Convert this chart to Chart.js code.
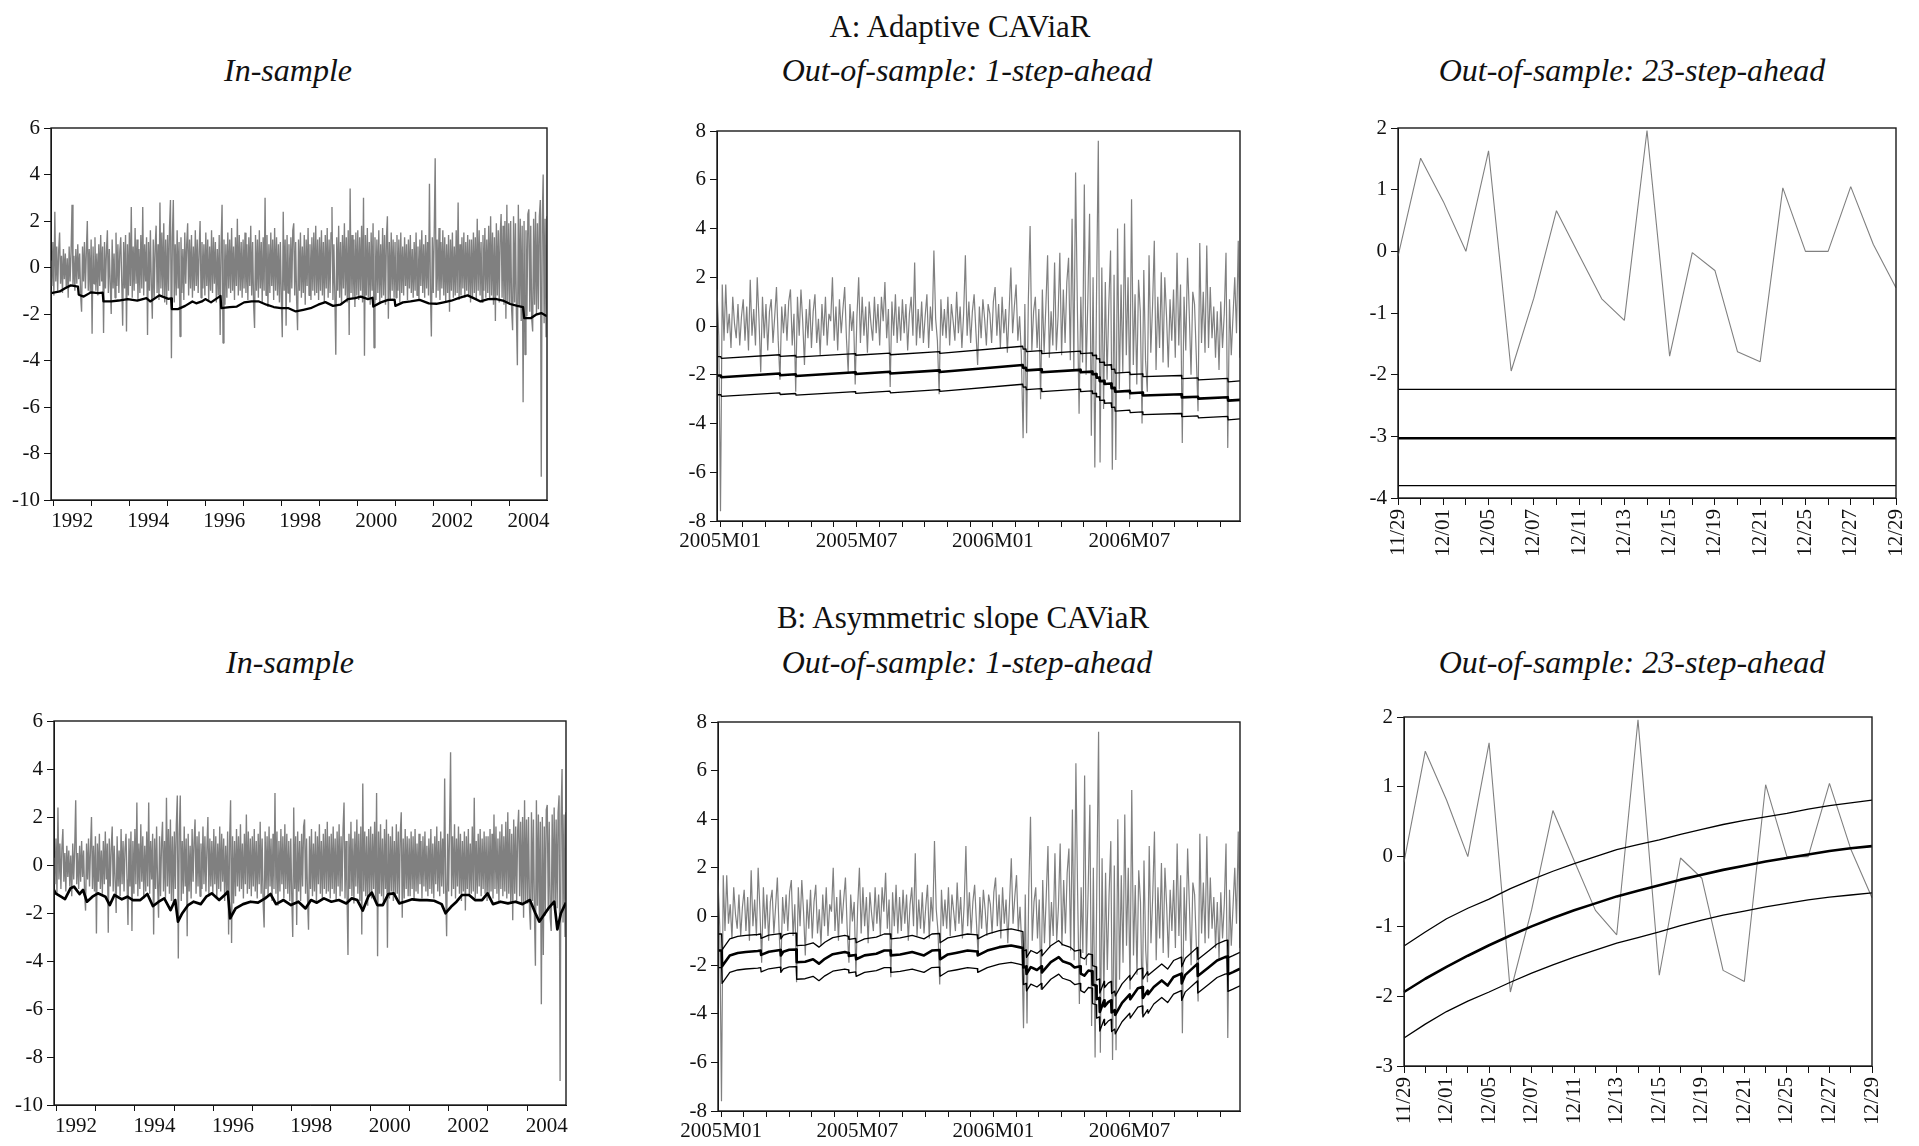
<!DOCTYPE html>
<html>
<head>
<meta charset="utf-8">
<script src="https://cdn.jsdelivr.net/npm/chart.js@4.4.1/dist/chart.umd.min.js"></script>
<style>
html,body{margin:0;padding:0;background:#fff;width:1919px;height:1146px;overflow:hidden;position:relative;}
.t{position:absolute;font-family:'Liberation Serif','Times New Roman',serif;color:#111;white-space:nowrap;transform:translateX(-50%);line-height:1;}
.title{font-size:31px;}
.sub{font-size:32px;font-style:italic;}
canvas{position:absolute;}
</style>
</head>
<body>
<div class="t title" style="left:960px;top:11px">A: Adaptive CAViaR</div>
<div class="t sub" style="left:288px;top:54px">In-sample</div>
<div class="t sub" style="left:967px;top:54px">Out-of-sample: 1-step-ahead</div>
<div class="t sub" style="left:1632px;top:54px">Out-of-sample: 23-step-ahead</div>
<div class="t title" style="left:963px;top:602px">B: Asymmetric slope CAViaR</div>
<div class="t sub" style="left:290px;top:646px">In-sample</div>
<div class="t sub" style="left:967px;top:646px">Out-of-sample: 1-step-ahead</div>
<div class="t sub" style="left:1632px;top:646px">Out-of-sample: 23-step-ahead</div>
<script>
// ---------------- DATA ----------------
// In-sample daily returns (approx. Dec 1991 - Dec 2004)
const inSampleStart = 1991.94;
const inSampleEnd = 2004.99;
const inSampleReturns = [
 0.3,-0.8,1.1,-1.2,2.4,-0.6,0.9,-1.0,0.7,1.5,-0.7,0.5,-1.1,0.8,-0.5,0.6,-0.9,0.4,-1.3,0.9,-0.6,0.7,2.7,-0.8,0.5,-1.0,0.8,-0.7,1.0,-0.5,0.6,-1.2,-1.9,0.9,-0.6,1.1,-0.9,0.7,2.0,-1.0,
 0.8,-1.1,1.2,-2.85,0.9,-0.7,1.3,-1.0,0.6,-1.2,1.0,-0.8,1.4,-0.6,0.9,-2.82,1.1,-0.9,0.7,1.6,-1.1,0.8,-0.7,-2.0,1.2,-0.9,0.6,-1.3,1.5,-0.8,1.0,-1.1,0.7,1.3,-0.6,-2.5,1.1,-0.9,1.4,-2.75,
 1.0,-1.2,1.5,-0.8,2.6,-1.3,0.9,-1.0,1.7,-0.7,1.2,-1.4,0.8,-1.1,1.4,-0.9,2.6,-1.2,1.0,-0.6,1.3,-2.9,1.1,-1.0,1.6,-0.8,-2.2,1.2,-1.3,0.9,1.8,-1.1,1.0,-1.4,2.8,-0.9,1.5,-1.2,1.9,-1.5,
 1.2,-1.6,1.4,-1.0,1.7,2.9,-3.9,1.3,2.9,-1.5,1.0,-1.2,1.6,-0.9,1.1,-2.97,1.3,-1.1,0.8,-1.4,1.5,-0.7,1.0,1.9,-1.2,1.2,-0.9,1.4,-1.3,0.9,-1.0,1.6,-0.8,1.2,-1.1,0.7,2.0,-1.3,1.1,-0.9,
 1.0,-1.2,1.5,-0.8,1.2,-1.4,0.9,-1.0,1.6,-1.1,1.3,-0.7,1.1,-1.5,0.8,-1.2,1.4,-2.9,1.0,2.7,-3.25,1.2,-1.6,1.0,-1.3,1.5,-0.9,1.2,-1.1,1.7,-1.0,0.9,-1.4,1.3,-0.8,2.1,-1.2,1.4,-1.0,1.1,
 -1.3,1.2,-0.9,1.5,-1.1,1.0,-1.4,1.3,-0.8,1.8,-1.2,1.1,-1.6,-2.6,1.4,-1.0,1.2,-1.3,1.6,-0.9,1.1,-1.5,1.3,-1.0,3.0,-1.2,1.4,-1.7,1.0,-1.1,1.5,-0.8,1.2,-1.4,1.7,-1.0,1.3,-1.2,1.0,-1.5,
 1.1,-1.3,-3.0,2.4,-1.0,1.2,-2.5,1.4,-1.1,1.0,-1.5,1.3,-0.9,1.6,1.9,-1.2,1.1,-1.4,-2.7,1.2,-1.0,1.5,-1.3,0.9,-1.1,1.4,-1.6,1.2,-0.8,1.7,-1.2,1.0,-1.4,1.3,-1.0,1.5,-1.2,1.8,-1.1,1.2,
 -1.4,1.3,-1.0,1.6,-1.2,1.1,-1.5,1.4,-0.9,1.7,-1.3,1.2,-1.1,1.5,2.6,-1.4,1.0,-1.2,-3.75,1.3,-1.0,1.8,-1.3,1.1,-1.6,1.4,-0.9,1.9,-1.2,1.3,-1.5,1.6,-2.9,3.4,-1.1,1.4,-1.3,1.2,-1.7,1.5,
 -1.2,1.6,-1.4,1.3,-1.0,1.8,-1.5,3.0,-3.8,1.4,-1.2,1.7,-1.3,1.1,-1.6,1.5,-1.0,1.9,-3.45,1.3,-1.4,1.2,-1.1,1.6,-1.5,1.0,-1.3,1.7,-1.2,1.4,-1.6,1.3,2.2,-2.2,1.1,-1.4,1.5,-1.0,1.2,-1.3,
 1.1,-1.3,1.4,-1.0,1.2,-1.5,1.5,-1.1,0.9,-1.2,1.3,-0.8,1.0,-1.4,1.2,-0.9,1.4,-1.1,0.8,-1.3,1.1,-1.0,1.5,-1.2,0.9,-1.4,1.2,-0.8,1.6,-1.1,1.0,-1.3,1.4,-0.9,1.1,-1.2,3.6,-1.0,-2.97,1.3,
 -1.1,1.5,4.7,-1.3,1.2,-1.0,1.7,-1.4,1.1,-0.9,1.6,-1.2,1.3,-1.5,1.0,-1.1,1.4,-1.9,1.2,-1.0,1.5,-1.3,0.9,-1.2,1.6,-1.1,2.8,-1.4,1.0,-1.2,1.3,-0.9,1.5,-1.3,1.1,-1.0,1.4,-1.2,1.2,-1.5,
 1.2,-1.3,1.5,-1.1,1.3,-1.4,2.1,-1.0,1.6,-1.2,1.1,-1.5,1.4,-1.0,1.7,-1.3,1.2,-1.1,1.8,-1.4,2.2,-1.2,1.5,-1.6,1.3,-2.3,1.9,-1.2,1.6,-1.5,1.4,2.3,-1.3,1.8,-1.6,2.0,-2.2,2.7,-1.5,1.9,
 -1.6,2.0,-1.8,-2.7,2.2,-1.5,1.9,-2.0,-4.2,2.7,-1.7,2.1,-2.3,1.8,-5.8,2.0,-3.75,1.6,-2.1,2.3,2.5,-1.9,1.8,-2.2,-2.75,2.1,-1.6,2.4,-2.0,1.9,-1.8,2.2,2.9,-9.0,2.0,4.0,-2.4,2.1,-3.0,2.2
];
// In-sample VaR, panel A (adaptive)
const inSampleVarATime = [
 1991.94,1992.17,1992.31,1992.46,1992.65,1992.67,1992.80,1992.99,1993.19,1993.30,
 1993.32,1993.53,1993.72,1993.96,1994.21,1994.45,1994.55,1994.79,1995.03,1995.10,
 1995.12,1995.28,1995.47,1995.66,1995.76,1995.91,1996.00,1996.15,1996.40,1996.42,
 1996.64,1996.83,1997.02,1997.22,1997.41,1997.61,1997.80,1997.99,1998.19,1998.38,
 1998.58,1998.77,1998.97,1999.16,1999.36,1999.55,1999.75,1999.94,2000.09,2000.28,
 2000.40,2000.42,2000.62,2000.81,2000.98,2001.00,2001.20,2001.40,2001.64,2001.88,
 2002.08,2002.27,2002.47,2002.66,2002.90,2003.10,2003.24,2003.44,2003.63,2003.83,
 2004.02,2004.21,2004.36,2004.39,2004.56,2004.70,2004.84,2004.99
];
const inSampleVarA = [
 -1.10,-1.03,-0.89,-0.77,-0.82,-1.17,-1.25,-1.07,-1.10,-1.08,
 -1.46,-1.46,-1.42,-1.36,-1.42,-1.32,-1.46,-1.20,-1.35,-1.33,
 -1.79,-1.79,-1.65,-1.46,-1.54,-1.46,-1.36,-1.50,-1.22,-1.75,
 -1.70,-1.68,-1.50,-1.46,-1.46,-1.60,-1.70,-1.75,-1.75,-1.89,
 -1.82,-1.75,-1.60,-1.49,-1.65,-1.60,-1.36,-1.32,-1.25,-1.36,
 -1.30,-1.68,-1.50,-1.39,-1.38,-1.65,-1.50,-1.46,-1.39,-1.54,
 -1.56,-1.50,-1.43,-1.32,-1.20,-1.35,-1.46,-1.36,-1.35,-1.42,
 -1.57,-1.65,-1.70,-2.18,-2.18,-2.03,-1.96,-2.10
];
// In-sample VaR, panel B (asymmetric slope)
const inSampleVarBTime = [
 1991.94,1991.98,1992.12,1992.22,1992.36,1992.45,1992.59,1992.68,1992.78,1992.92,
 1993.06,1993.25,1993.36,1993.48,1993.67,1993.81,1993.95,1994.14,1994.32,1994.46,
 1994.61,1994.75,1994.91,1995.03,1995.10,1995.21,1995.36,1995.50,1995.68,1995.82,
 1995.96,1996.15,1996.29,1996.37,1996.43,1996.57,1996.76,1996.95,1997.14,1997.32,
 1997.46,1997.60,1997.79,1997.98,1998.17,1998.35,1998.49,1998.64,1998.82,1999.01,
 1999.20,1999.39,1999.53,1999.67,1999.81,1999.95,2000.04,2000.18,2000.32,2000.46,
 2000.60,2000.74,2000.88,2001.07,2001.26,2001.45,2001.63,2001.82,2001.92,2002.06,
 2002.20,2002.34,2002.52,2002.67,2002.85,2002.99,2003.13,2003.32,2003.51,2003.70,
 2003.88,2004.07,2004.21,2004.31,2004.40,2004.54,2004.69,2004.77,2004.86,2004.99
];
const inSampleVarB = [
 -1.04,-1.18,-1.32,-1.42,-0.97,-0.90,-1.21,-1.04,-1.53,-1.32,
 -1.18,-1.32,-1.67,-1.25,-1.43,-1.32,-1.46,-1.46,-1.21,-1.71,
 -1.53,-1.39,-1.88,-1.46,-2.36,-2.01,-1.67,-1.53,-1.63,-1.32,
 -1.18,-1.46,-1.25,-1.11,-2.22,-1.81,-1.63,-1.53,-1.57,-1.39,
 -1.21,-1.63,-1.46,-1.67,-1.53,-1.81,-1.46,-1.57,-1.39,-1.53,
 -1.46,-1.60,-1.39,-1.46,-1.90,-1.32,-1.15,-1.67,-1.67,-1.21,
 -1.18,-1.60,-1.53,-1.43,-1.46,-1.46,-1.49,-1.63,-2.01,-1.74,
 -1.53,-1.25,-1.25,-1.46,-1.46,-1.18,-1.63,-1.53,-1.60,-1.53,
 -1.63,-1.46,-2.01,-2.36,-2.15,-1.81,-1.53,-2.68,-2.01,-1.57
];
const inSampleTickYears = [1992,1993,1994,1995,1996,1997,1998,1999,2000,2001,2002,2003,2004];
const inSampleLabelYears = [1992,1994,1996,1998,2000,2002,2004];
const inSampleYTicks = [-10,-8,-6,-4,-2,0,2,4,6];

// Out-of-sample (months since 2005M01), returns
const oosStart = -0.14;
const oosEnd = 22.87;
const oosReturns = [
 1.5,-0.4,-7.6,1.7,-0.6,1.7,-0.3,0.5,-0.9,1.2,0.1,-0.5,0.9,
 -0.8,0.4,1.1,-0.6,0.8,-1.0,1.9,-0.4,0.7,-0.8,2.0,0.3,-1.9,
 1.2,-0.5,0.9,-1.0,0.6,1.1,-0.7,0.4,1.6,-0.6,-2.2,0.8,-0.3,
 0.9,-0.6,1.0,1.5,-0.8,0.5,-2.7,1.2,-0.4,1.5,0.2,-1.6,0.7,
 -0.5,1.1,-0.9,0.6,1.3,-0.7,0.3,-1.2,0.9,-0.4,1.2,-0.8,0.5,
 0.2,2.0,-0.6,0.8,-1.0,1.1,-0.3,0.7,1.6,-0.5,-1.9,0.9,-0.2,
 0.6,-2.4,0.4,2.0,-0.7,1.2,-0.4,0.8,-1.1,1.0,0.1,-0.6,1.2,
 -0.3,0.9,-0.8,1.2,0.2,1.8,-0.5,0.7,-2.5,1.0,-0.4,1.3,-0.7,
 0.8,-0.6,1.1,-0.3,0.9,-1.0,0.5,1.2,-0.4,2.6,-0.8,0.7,-0.5,
 1.0,-0.7,0.4,1.3,-0.9,0.8,-0.2,3.1,0.3,-0.6,-2.8,1.1,-0.4,
 0.7,-0.5,1.2,-0.8,0.9,0.2,-0.6,1.4,-0.3,0.8,-0.9,0.5,2.9,
 -0.4,1.0,-0.7,0.6,1.3,-0.2,-1.6,0.8,-0.5,1.1,0.3,-0.8,0.9,
 0.5,-0.7,1.0,1.6,-0.4,0.9,-0.9,1.2,-0.3,0.7,-1.1,0.6,2.4,
 -0.3,0.8,1.7,-0.6,0.4,-1.2,-4.6,0.9,-4.4,1.1,4.1,-1.0,0.6,
 1.2,-0.9,0.7,-3.0,1.5,-1.1,0.8,2.9,-1.3,0.6,-0.8,2.6,-1.0,
 0.4,3.0,-1.2,1.5,-0.7,1.8,2.8,-1.4,4.4,-1.8,6.3,0.9,-3.6,
 1.2,-1.5,5.8,-2.0,1.0,4.6,-4.5,2.0,-5.8,1.4,7.6,-5.6,2.4,
 -3.4,1.8,-2.2,0.9,3.1,-5.9,2.1,-5.5,4.0,-2.6,1.7,-1.9,4.2,
 -1.2,2.0,-3.0,5.2,-1.6,1.3,-2.4,1.9,0.6,-4.0,2.3,-1.4,-2.7,
 2.9,-1.1,0.8,3.5,-1.8,1.2,-0.9,2.2,-1.5,2.0,0.4,-1.7,1.1,
 -0.6,1.5,-1.3,3.0,-0.8,1.7,-4.8,1.2,-1.0,2.8,0.5,-2.0,1.4,
 0.9,-1.2,-3.5,3.4,-0.7,1.4,-1.1,3.3,-0.9,1.6,-0.5,0.8,-1.3,
 0.6,-1.8,1.0,-0.9,0.5,3.0,-5.0,1.1,-1.2,0.4,2.0,-0.3,3.5,
 -1.3
];
// OOS 1-step VaR, panel A
const oosVarATime = [
 -0.14,0.03,0.05,2.62,2.64,3.32,3.34,5.94,5.96,7.47,
 7.49,9.64,9.66,13.31,13.33,13.45,13.47,14.13,14.15,15.84,
 15.86,16.36,16.38,16.54,16.56,16.68,16.70,16.89,16.91,17.20,
 17.22,17.36,17.38,18.02,18.04,18.58,18.60,20.29,20.31,21.02,
 21.04,22.33,22.35,22.87
];
const oosVarA = [
 -2.03,-2.03,-2.10,-1.95,-2.02,-1.98,-2.05,-1.90,-1.97,-1.88,
 -1.95,-1.82,-1.89,-1.60,-1.72,-1.71,-1.82,-1.78,-1.90,-1.80,
 -1.90,-1.87,-1.98,-1.97,-2.12,-2.11,-2.26,-2.25,-2.38,-2.36,
 -2.55,-2.54,-2.70,-2.66,-2.76,-2.73,-2.85,-2.80,-2.93,-2.90,
 -2.98,-2.92,-3.06,-3.03
];
const oosVarAUpper = [
 -1.26,-1.26,-1.33,-1.18,-1.25,-1.21,-1.28,-1.13,-1.20,-1.11,
 -1.18,-1.05,-1.12,-0.83,-0.95,-0.94,-1.05,-1.01,-1.13,-1.03,
 -1.13,-1.10,-1.21,-1.20,-1.35,-1.34,-1.49,-1.48,-1.61,-1.59,
 -1.78,-1.77,-1.93,-1.89,-1.99,-1.96,-2.08,-2.03,-2.16,-2.13,
 -2.21,-2.15,-2.29,-2.25
];
const oosVarALower = [
 -2.82,-2.82,-2.89,-2.74,-2.81,-2.77,-2.84,-2.69,-2.76,-2.67,
 -2.74,-2.61,-2.68,-2.39,-2.51,-2.50,-2.61,-2.57,-2.69,-2.59,
 -2.69,-2.66,-2.77,-2.76,-2.91,-2.90,-3.05,-3.04,-3.17,-3.15,
 -3.34,-3.33,-3.49,-3.45,-3.55,-3.52,-3.64,-3.59,-3.72,-3.69,
 -3.77,-3.71,-3.85,-3.81
];
// OOS 1-step VaR, panel B
const oosVarBTime = [
 -0.14,0.02,0.04,0.38,0.73,1.08,1.61,1.74,1.76,2.10,
 2.61,2.63,2.74,3.00,3.31,3.33,3.70,4.05,4.31,4.57,
 4.92,5.45,5.61,5.63,5.93,5.95,6.32,6.84,7.19,7.46,
 7.48,7.89,8.42,8.94,9.29,9.63,9.65,9.99,10.34,10.86,
 11.29,11.31,11.73,12.26,12.78,13.13,13.30,13.32,13.44,13.46,
 13.65,13.92,14.12,14.14,14.53,14.88,15.05,15.40,15.58,15.83,
 15.85,16.01,16.19,16.35,16.37,16.53,16.55,16.67,16.69,16.88,
 16.90,17.06,17.19,17.21,17.35,17.37,17.67,18.01,18.03,18.37,
 18.57,18.59,18.80,18.82,19.07,19.42,19.68,19.94,20.28,20.30,
 20.46,20.99,21.01,21.51,21.86,22.21,22.32,22.34,22.56,22.87
];
const oosVarB = [
 -1.40,-1.40,-2.05,-1.60,-1.50,-1.46,-1.42,-1.40,-1.58,-1.45,
 -1.38,-1.60,-1.45,-1.37,-1.36,-1.88,-1.86,-1.76,-1.94,-1.74,
 -1.55,-1.46,-1.50,-1.62,-1.58,-1.76,-1.60,-1.53,-1.40,-1.40,
 -1.60,-1.56,-1.46,-1.60,-1.40,-1.38,-1.76,-1.56,-1.50,-1.40,
 -1.44,-1.60,-1.40,-1.26,-1.19,-1.26,-1.30,-2.10,-2.05,-2.36,
 -2.08,-2.20,-2.05,-2.30,-1.88,-1.67,-1.84,-1.95,-2.10,-2.05,
 -2.35,-2.43,-2.22,-2.25,-2.80,-2.85,-3.40,-3.35,-3.93,-3.45,
 -3.70,-3.52,-3.45,-3.95,-3.85,-4.05,-3.55,-3.20,-3.40,-2.95,
 -2.90,-3.35,-3.05,-3.20,-2.90,-2.63,-2.84,-2.49,-2.35,-2.75,
 -2.40,-1.95,-2.45,-2.08,-1.81,-1.67,-1.65,-2.38,-2.29,-2.15
];
const oosVarBUpper = [
 -0.72,-0.72,-1.37,-0.92,-0.82,-0.78,-0.74,-0.72,-0.90,-0.77,
 -0.70,-0.92,-0.77,-0.69,-0.68,-1.20,-1.18,-1.08,-1.26,-1.06,
 -0.87,-0.78,-0.82,-0.94,-0.90,-1.08,-0.92,-0.85,-0.72,-0.72,
 -0.92,-0.88,-0.78,-0.92,-0.72,-0.70,-1.08,-0.88,-0.82,-0.72,
 -0.76,-0.92,-0.72,-0.58,-0.51,-0.58,-0.62,-1.42,-1.37,-1.68,
 -1.40,-1.52,-1.37,-1.62,-1.20,-0.99,-1.16,-1.27,-1.42,-1.37,
 -1.67,-1.75,-1.54,-1.57,-2.02,-2.07,-2.62,-2.57,-3.15,-2.67,
 -2.92,-2.74,-2.67,-3.17,-3.07,-3.27,-2.77,-2.42,-2.62,-2.17,
 -2.12,-2.57,-2.27,-2.42,-2.22,-1.95,-2.16,-1.81,-1.67,-2.07,
 -1.72,-1.27,-1.77,-1.40,-1.13,-0.99,-0.97,-1.70,-1.61,-1.47
];
const oosVarBLower = [
 -2.10,-2.10,-2.75,-2.30,-2.20,-2.16,-2.12,-2.10,-2.28,-2.15,
 -2.08,-2.30,-2.15,-2.07,-2.06,-2.58,-2.56,-2.46,-2.64,-2.44,
 -2.25,-2.16,-2.20,-2.32,-2.28,-2.46,-2.30,-2.23,-2.10,-2.10,
 -2.30,-2.26,-2.16,-2.30,-2.10,-2.08,-2.46,-2.26,-2.20,-2.10,
 -2.14,-2.30,-2.10,-1.96,-1.89,-1.96,-2.00,-2.80,-2.75,-3.06,
 -2.78,-2.90,-2.75,-3.00,-2.58,-2.37,-2.54,-2.65,-2.80,-2.75,
 -3.05,-3.13,-2.92,-2.95,-3.58,-3.63,-4.18,-4.13,-4.71,-4.23,
 -4.48,-4.30,-4.23,-4.73,-4.63,-4.83,-4.33,-3.98,-4.18,-3.73,
 -3.68,-4.13,-3.83,-3.98,-3.60,-3.33,-3.54,-3.19,-3.05,-3.45,
 -3.10,-2.65,-3.15,-2.78,-2.51,-2.37,-2.35,-3.08,-2.99,-2.85
];
const oosTickMonths = [0,1,2,3,4,5,6,7,8,9,10,11,12,13,14,15,16,17,18,19,20,21,22];
const oosLabelMonths = [0,6,12,18];
const oosLabelTexts = ['2005M01','2005M07','2006M01','2006M07'];
const oosYTicks = [-8,-6,-4,-2,0,2,4,6,8];

// 23-step-ahead (11/29 - 12/29)
const stepDates = ['11/29','11/30','12/01','12/04','12/05','12/06','12/07','12/08','12/11','12/12','12/13','12/14','12/15','12/18','12/19','12/20','12/21','12/22','12/25','12/26','12/27','12/28','12/29'];
const stepAxisLabels = ['11/29','','12/01','','12/05','','12/07','','12/11','','12/13','','12/15','','12/19','','12/21','','12/25','','12/27','','12/29'];
const stepReturns = [-0.08,1.51,0.81,0.00,1.63,-1.94,-0.76,0.66,-0.06,-0.77,-1.12,1.96,-1.70,-0.02,-0.31,-1.63,-1.79,1.03,0.00,0.00,1.05,0.11,-0.59];
const stepVarA = [-3.03,-3.03,-3.03,-3.03,-3.03,-3.03,-3.03,-3.03,-3.03,-3.03,-3.03,-3.03,-3.03,-3.03,-3.03,-3.03,-3.03,-3.03,-3.03,-3.03,-3.03,-3.03,-3.03];
const stepVarAUpper = [-2.24,-2.24,-2.24,-2.24,-2.24,-2.24,-2.24,-2.24,-2.24,-2.24,-2.24,-2.24,-2.24,-2.24,-2.24,-2.24,-2.24,-2.24,-2.24,-2.24,-2.24,-2.24,-2.24];
const stepVarALower = [-3.80,-3.80,-3.80,-3.80,-3.80,-3.80,-3.80,-3.80,-3.80,-3.80,-3.80,-3.80,-3.80,-3.80,-3.80,-3.80,-3.80,-3.80,-3.80,-3.80,-3.80,-3.80,-3.80];
const stepVarB = [-1.94,-1.75,-1.58,-1.42,-1.27,-1.13,-1.00,-0.88,-0.77,-0.67,-0.57,-0.49,-0.41,-0.33,-0.26,-0.19,-0.13,-0.07,-0.02,0.03,0.08,0.12,0.15];
const stepVarBUpper = [-1.28,-1.08,-0.89,-0.74,-0.61,-0.46,-0.33,-0.21,-0.10,0.00,0.10,0.17,0.24,0.32,0.39,0.46,0.52,0.57,0.62,0.68,0.73,0.77,0.81];
const stepVarBLower = [-2.60,-2.40,-2.22,-2.07,-1.94,-1.80,-1.67,-1.55,-1.44,-1.34,-1.24,-1.16,-1.08,-0.99,-0.91,-0.84,-0.78,-0.72,-0.67,-0.62,-0.58,-0.55,-0.52];
const stepYTicksA = [-4,-3,-2,-1,0,1,2];
const stepYTicksB = [-3,-2,-1,0,1,2];

// ---------------- DRAWING ----------------
const FONT = "'Liberation Serif', 'Times New Roman', Times, serif";
const FSIZE = 21;
const INK = '#111';
const GREY = '#808080';
Chart.defaults.font.family = FONT;
Chart.defaults.font.size = FSIZE;
Chart.defaults.color = INK;

const framePlugin = {
  id: 'frame',
  afterDraw(chart) {
    const a = chart.chartArea, ctx = chart.ctx;
    ctx.save();
    ctx.strokeStyle = '#1a1a1a';
    ctx.lineWidth = 1.4;
    ctx.strokeRect(a.left, a.top, a.right - a.left, a.bottom - a.top);
    ctx.restore();
  }
};

function spread(values, t0, t1) {
  const n = values.length;
  return values.map((v, i) => ({x: t0 + i * (t1 - t0) / (n - 1), y: v}));
}
function pairs(times, values) {
  return times.map((t, i) => ({x: t, y: values[i]}));
}
function greyLine(data, w) {
  return {data, borderColor: GREY, borderWidth: w || 1, pointRadius: 0, order: 5, borderJoinStyle: 'bevel'};
}
function blackLine(data, w) {
  return {data, borderColor: '#000', borderWidth: w, pointRadius: 0, order: 1, borderJoinStyle: 'round'};
}

function yScale(ticks, padL) {
  return {
    type: 'linear', min: ticks[0], max: ticks[ticks.length - 1],
    afterBuildTicks(s) { s.ticks = ticks.map(v => ({value: v})); },
    afterFit(s) { s.width = padL; s.paddingTop = 0; s.paddingBottom = 0; },
    ticks: {color: INK, font: {family: FONT, size: FSIZE}, padding: 4, autoSkip: false},
    grid: {drawOnChartArea: false, drawTicks: true, tickLength: 7, color: INK, lineWidth: 1},
    border: {display: true, color: INK, width: 1}
  };
}

function makePanel(box, cfg) {
  const padL = 50, padT = 14, padR = 16, padB = cfg.padB;
  const w = box.R - box.L + padL + padR, h = box.B - box.T + padT + padB;
  const cv = document.createElement('canvas');
  cv.width = w; cv.height = h;
  cv.style.left = (box.L - padL) + 'px';
  cv.style.top = (box.T - padT) + 'px';
  cv.style.width = w + 'px'; cv.style.height = h + 'px';
  document.body.appendChild(cv);
  const xs = Object.assign({}, cfg.x, {
    afterFit(s) { s.height = padB; s.paddingLeft = 0; s.paddingRight = 0; }
  });
  new Chart(cv, {
    type: 'line',
    data: cfg.data,
    options: {
      responsive: false, animation: false, devicePixelRatio: 1,
      layout: {padding: {left: 0, top: padT, right: padR, bottom: 0}},
      plugins: {legend: {display: false}, tooltip: {enabled: false}, title: {display: false}},
      elements: {point: {radius: 0}, line: {tension: 0}},
      scales: {x: xs, y: yScale(cfg.yTicks, padL)}
    },
    plugins: [framePlugin]
  });
}

const tickGrid = {drawOnChartArea: false, drawTicks: true, tickLength: 6, color: INK, lineWidth: 1};
const axisBorder = {display: true, color: INK, width: 1};

function inSampleX(box) {
  const halfYear = (box.R - box.L) / (inSampleEnd - inSampleStart) / 2;
  return {
    type: 'linear', min: inSampleStart, max: inSampleEnd,
    afterBuildTicks(s) { s.ticks = inSampleTickYears.map(v => ({value: v})); },
    ticks: {autoSkip: false, maxRotation: 0, minRotation: 0, labelOffset: halfYear, padding: 3,
      color: INK, font: {family: FONT, size: FSIZE},
      callback: v => inSampleLabelYears.includes(v) ? String(v) : ''},
    grid: tickGrid, border: axisBorder
  };
}
function oosX() {
  return {
    type: 'linear', min: oosStart, max: oosEnd,
    afterBuildTicks(s) { s.ticks = oosTickMonths.map(v => ({value: v})); },
    ticks: {autoSkip: false, maxRotation: 0, minRotation: 0, padding: 2,
      color: INK, font: {family: FONT, size: FSIZE},
      callback: v => { const k = oosLabelMonths.indexOf(v); return k >= 0 ? oosLabelTexts[k] : ''; }},
    grid: tickGrid, border: axisBorder
  };
}
function stepX() {
  return {
    type: 'category', offset: false,
    ticks: {autoSkip: false, maxRotation: 90, minRotation: 90, padding: 4,
      color: INK, font: {family: FONT, size: FSIZE},
      callback: (v, i) => stepAxisLabels[i]},
    grid: Object.assign({}, tickGrid, {tickLength: 7, offset: false}), border: axisBorder
  };
}

// Panel boxes (plot-area edges in page pixels)
const boxAIn = {L: 51, T: 128, R: 547, B: 500};
const boxA1 = {L: 717, T: 131, R: 1240, B: 521};
const boxA23 = {L: 1398, T: 128, R: 1896, B: 498};
const boxBIn = {L: 54, T: 721, R: 566, B: 1105};
const boxB1 = {L: 718, T: 722, R: 1240, B: 1111};
const boxB23 = {L: 1404, T: 717, R: 1872, B: 1066};

const inRet = spread(inSampleReturns, inSampleStart, inSampleEnd);
const oosRet = spread(oosReturns, oosStart, oosEnd);

makePanel(boxAIn, {padB: 50, yTicks: inSampleYTicks, x: inSampleX(boxAIn), data: {datasets: [
  blackLine(pairs(inSampleVarATime, inSampleVarA), 2.3),
  greyLine(inRet, 1.35)
]}});
makePanel(boxA1, {padB: 50, yTicks: oosYTicks, x: oosX(), data: {datasets: [
  blackLine(pairs(oosVarATime, oosVarA), 2.6),
  blackLine(pairs(oosVarATime, oosVarAUpper), 1.3),
  blackLine(pairs(oosVarATime, oosVarALower), 1.3),
  greyLine(oosRet, 1.2)
]}});
makePanel(boxA23, {padB: 80, yTicks: stepYTicksA, x: stepX(), data: {labels: stepDates, datasets: [
  blackLine(stepVarA, 2.6),
  blackLine(stepVarAUpper, 1.3),
  blackLine(stepVarALower, 1.3),
  greyLine(stepReturns, 1.1)
]}});
makePanel(boxBIn, {padB: 40, yTicks: inSampleYTicks, x: inSampleX(boxBIn), data: {datasets: [
  blackLine(pairs(inSampleVarBTime, inSampleVarB), 2.7),
  greyLine(inRet, 1.35)
]}});
makePanel(boxB1, {padB: 35, yTicks: oosYTicks, x: oosX(), data: {datasets: [
  blackLine(pairs(oosVarBTime, oosVarB), 2.6),
  blackLine(pairs(oosVarBTime, oosVarBUpper), 1.3),
  blackLine(pairs(oosVarBTime, oosVarBLower), 1.3),
  greyLine(oosRet, 1.2)
]}});
makePanel(boxB23, {padB: 80, yTicks: stepYTicksB, x: stepX(), data: {labels: stepDates, datasets: [
  blackLine(stepVarB, 2.6),
  blackLine(stepVarBUpper, 1.3),
  blackLine(stepVarBLower, 1.3),
  greyLine(stepReturns, 1.1)
]}});
</script>
</body>
</html>
